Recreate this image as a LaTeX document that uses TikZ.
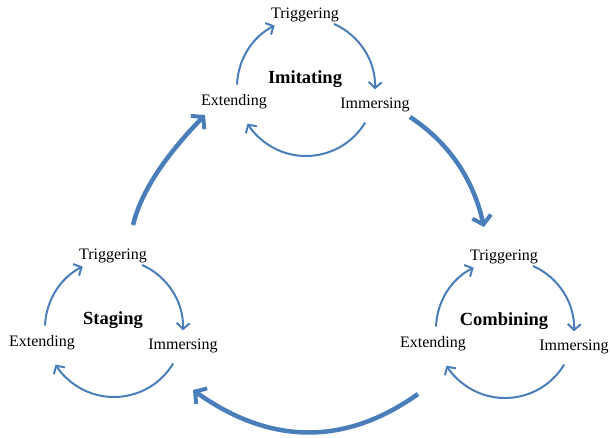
\documentclass[tikz,border=0pt]{standalone}
\usepackage{fontspec}
\setmainfont{Liberation Serif}
\usetikzlibrary{arrows.meta}
\definecolor{cblue}{RGB}{74,126,187}
\newcommand\mycycle[4]{%
  \begin{scope}[shift={(#2,#3)}]
    \coordinate (#1c) at (0,0);
    \node[lbl] (#1t) at (-1,72) {Triggering};
    \node[ttl] (#1n) at (-1,8) {#4};
    \node[lbl] (#1e) at (-72,-15) {Extending};
    \node[lbl] (#1i) at (69,-18) {Immersing};
    \draw[small] (178:69) arc (178:117:69);
    \draw[small] (66:69) arc (66:-2:69);
    \draw[small] (-31:69) arc (-31:-148:69);
  \end{scope}}
\begin{document}
\begin{tikzpicture}[x=1pt,y=1pt,
  small/.style={draw=cblue,line width=2pt,-{Straight Barb[length=6pt,width=13pt,line width=2pt]}},
  big/.style={draw=cblue,line width=4.5pt,-{Straight Barb[length=8pt,width=19pt,line width=4pt]}},
  lbl/.style={font=\fontsize{16}{18}\selectfont,inner sep=0pt},
  ttl/.style={font=\fontsize{18.5}{20}\selectfont\bfseries,inner sep=0pt}]
\useasboundingbox (0,0) rectangle (610,437);
\mycycle{A}{306}{350}{Imitating}
\mycycle{S}{114}{109}{Staging}
\mycycle{C}{505}{108}{Combining}
\coordinate (b1s) at (133,212);
\coordinate (b1e) at (205,322);
\coordinate (b2s) at (410,320);
\coordinate (b2e) at (484,210);
\coordinate (b3s) at (418,43);
\coordinate (b3e) at (193,47);
\draw[big] (b1s) .. controls (141,245) and (165,281) .. (b1e);
\draw[big] (b2s) .. controls (448,295) and (473,259) .. (b2e);
\draw[big] (b3s) .. controls (345,-9) and (270,-8) .. (b3e);
\end{tikzpicture}
\end{document}
